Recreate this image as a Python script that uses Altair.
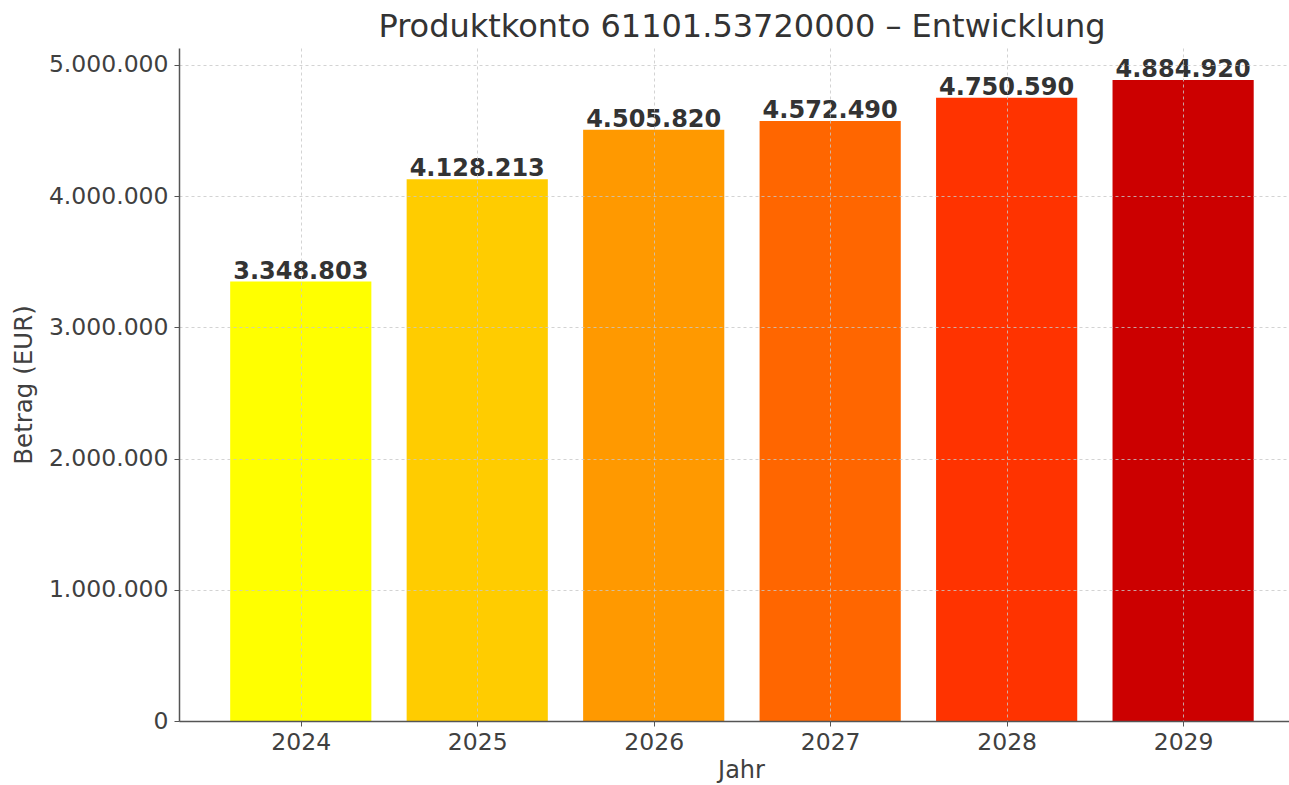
import altair as alt
import pandas as pd

years = [2024, 2025, 2026, 2027, 2028, 2029]
values = [3348803, 4128213, 4505820, 4572490, 4750590, 4884920]
colors = ["#FFFF00", "#FFCC00", "#FF9900", "#FF6600", "#FF3300", "#CC0000"]
y_ticks = [0, 1000000, 2000000, 3000000, 4000000, 5000000]

df = pd.DataFrame({"Jahr": years, "Betrag": values})

FONT = "DejaVu Sans"
TXT = "#404040"
AX = "#555555"

base = alt.Chart(df).transform_calculate(
    x0="datum.Jahr - 0.4", x1="datum.Jahr + 0.4"
)

xscale = alt.Scale(domain=[2023.31, 2029.6], nice=False, zero=False)
yscale = alt.Scale(domain=[0, 5129166], nice=False)

bars = base.mark_bar().encode(
    x=alt.X("x0:Q", scale=xscale,
            axis=alt.Axis(values=years, format="d", title="Jahr", grid=True,
                          gridDash=[3, 3], gridColor="#c8c8c8", gridOpacity=0.8,
                          labelFontSize=23.5, titleFontSize=24, titlePadding=5,
                          titleX=562, labelPadding=4, zindex=1)),
    x2="x1:Q",
    y=alt.Y("Betrag:Q", scale=yscale,
            axis=alt.Axis(values=y_ticks, format=",d", title="Betrag (EUR)",
                          grid=True, gridDash=[3, 3], gridColor="#c8c8c8",
                          gridOpacity=0.8, labelFontSize=23.5, titleFontSize=24.5,
                          titlePadding=12, labelPadding=6, zindex=1)),
    y2=alt.datum(0),
    color=alt.Color("Jahr:N", scale=alt.Scale(domain=years, range=colors), legend=None),
)

labels = base.mark_text(font=FONT, fontSize=24, fontWeight="bold", color="#333333",
                        baseline="alphabetic", dy=-3).encode(
    x=alt.X("Jahr:Q", scale=xscale),
    y=alt.Y("Betrag:Q", scale=yscale),
    text=alt.Text("Betrag:Q", format=",d"),
)

chart = alt.layer(bars, labels).properties(
    width=1110, height=673,
    title=alt.TitleParams("Produktkonto 61101.53720000 – Entwicklung", fontSize=32,
                          font=FONT, fontWeight="normal", color="#333333",
                          baseline="alphabetic", offset=11, dy=32, dx=8, anchor="middle"),
    autosize=alt.AutoSizeParams(type="none"),
    padding={"left": 179, "top": 48, "right": 0, "bottom": 64},
).configure(
    locale={"number": {"decimal": ",", "thousands": ".", "grouping": [3],
                       "currency": ["", " €"]}},
).configure_view(stroke=None).configure_axis(
    labelFont=FONT, titleFont=FONT, labelColor=TXT, titleColor=TXT,
    titleFontWeight="normal", domainColor=AX, tickColor=AX, tickSize=5,
    domainWidth=1.5,
)

chart.save("out.html", embed_options={"renderer": "svg", "actions": False})
